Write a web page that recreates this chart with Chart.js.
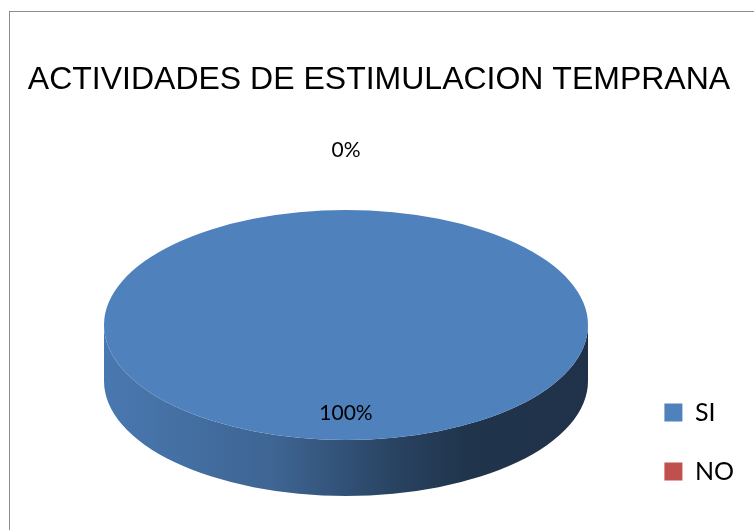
<!DOCTYPE html>
<html>
<head>
<meta charset="utf-8">
<script src="https://cdn.jsdelivr.net/npm/chart.js@4.4.0/dist/chart.umd.min.js"></script>
<style>
  html, body { margin: 0; padding: 0; background: #fff; overflow: hidden; }
</style>
</head>
<body>
<canvas id="canvas" width="754" height="530"></canvas>
<script>
var chartTitle = 'ACTIVIDADES DE ESTIMULACION TEMPRANA'
var categories = ['SI', 'NO']
var values = [100, 0]
var colors = ['#4f81bd', '#c0504d']

// where the flattened pie sits on the page
var pie = { cx: 346, cy: 325, rx: 242, ry: 115, depth: 56 }

function shade (hex, f) {
  var n = parseInt(hex.slice(1), 16)
  var r = Math.round(((n >> 16) & 255) * f)
  var g = Math.round(((n >> 8) & 255) * f)
  var b = Math.round((n & 255) * f)
  return 'rgb(' + r + ',' + g + ',' + b + ')'
}

var pie3d = {
  id: 'pie3d',
  beforeDraw: function (chart) {
    var ctx = chart.ctx
    ctx.save()
    ctx.strokeStyle = '#8c8c8c'
    ctx.lineWidth = 1
    ctx.strokeRect(9.5, 11.5, 900, 700)
    ctx.restore()
  },
  beforeDatasetsDraw: function (chart) {
    var ctx = chart.ctx
    var arcs = chart.getDatasetMeta(0).data
    arcs.forEach(function (arc, i) {
      var s = Math.max(arc.startAngle, 0)
      var e = Math.min(arc.endAngle, Math.PI)
      if (e <= s) return
      var base = colors[i]
      var g = ctx.createLinearGradient(pie.cx - pie.rx, 0, pie.cx + pie.rx, 0)
      g.addColorStop(0, shade(base, 0.93))
      g.addColorStop(0.35, shade(base, 0.78))
      g.addColorStop(0.6, shade(base, 0.52))
      g.addColorStop(0.75, shade(base, 0.4))
      g.addColorStop(1, shade(base, 0.39))
      ctx.save()
      ctx.fillStyle = g
      ctx.beginPath()
      ctx.ellipse(pie.cx, pie.cy, pie.rx, pie.ry, 0, s, e)
      ctx.ellipse(pie.cx, pie.cy + pie.depth, pie.rx, pie.ry, 0, e, s, true)
      ctx.closePath()
      ctx.fill()
      ctx.restore()
    })
    var a = arcs[0]
    ctx.save()
    ctx.translate(pie.cx, pie.cy)
    ctx.scale(pie.rx / a.outerRadius, pie.ry / a.outerRadius)
    ctx.translate(-a.x, -a.y)
  },
  afterDatasetsDraw: function (chart) {
    var ctx = chart.ctx
    ctx.restore()
    var arcs = chart.getDatasetMeta(0).data
    var total = values.reduce(function (p, v) { return p + v }, 0)
    ctx.save()
    ctx.fillStyle = '#000'
    ctx.font = '21px Lato'
    ctx.textAlign = 'center'
    ctx.textBaseline = 'middle'
    arcs.forEach(function (arc, i) {
      var mid = (arc.startAngle + arc.endAngle) / 2
      var f = values[i] > 0 ? 0.77 : 1.52
      var x = pie.cx + Math.cos(mid) * pie.rx * f
      var y = pie.cy + Math.sin(mid) * pie.ry * f
      ctx.fillText(Math.round(values[i] / total * 100) + '%', x, y)
    })
    ctx.restore()
  }
}

Chart.defaults.color = '#000'

new Chart(document.getElementById('canvas').getContext('2d'), {
  type: 'pie',
  data: {
    labels: categories,
    datasets: [{
      data: values,
      backgroundColor: colors,
      borderWidth: 0,
      clip: false
    }]
  },
  options: {
    responsive: false,
    animation: false,
    events: [],
    layout: { padding: { left: 14, right: 10, bottom: 12 } },
    plugins: {
      title: {
        display: true,
        text: chartTitle,
        color: '#000',
        font: { family: 'Liberation Sans', size: 32, weight: 'normal' },
        padding: { top: 61, bottom: 10 }
      },
      legend: {
        position: 'right',
        align: 'end',
        labels: {
          boxWidth: 18,
          boxHeight: 18,
          padding: 34,
          font: { family: 'Lato', size: 25 }
        }
      },
      tooltip: { enabled: false }
    }
  },
  plugins: [pie3d]
})
</script>
</body>
</html>
